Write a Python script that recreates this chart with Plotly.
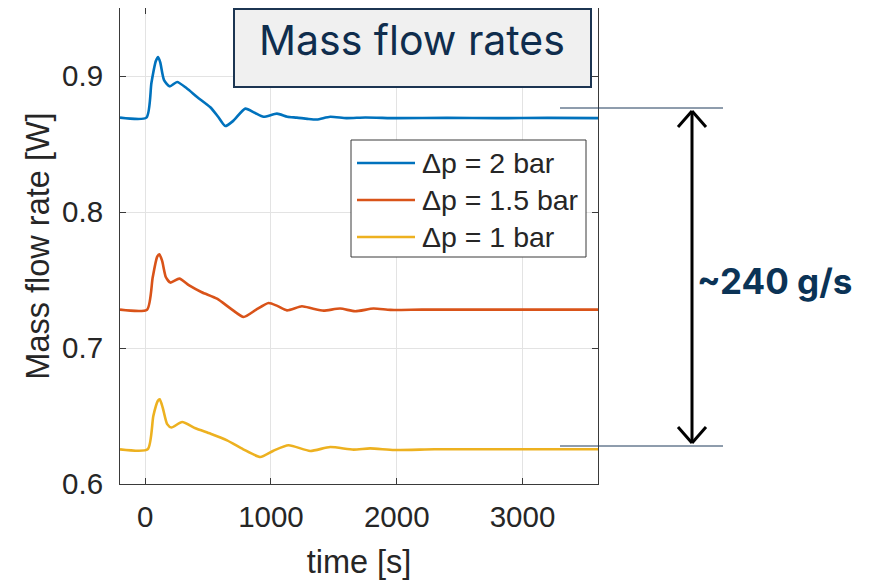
import plotly.graph_objects as go

# ---------------- data ----------------
series_names = ["Δp = 2 bar", "Δp = 1.5 bar", "Δp = 1 bar"]
series_colors = ["#0072BD", "#D95319", "#EDB120"]

t_2bar = [-200, 10, 50, 85, 103, 120, 150, 195, 254, 330, 413, 518, 580, 637, 700, 796, 870, 941, 1048, 1130,
          1206, 1290, 1365, 1471, 1600, 1750, 2000, 2400, 2800, 3200, 3600]
m_2bar = [0.8694, 0.8694, 0.895, 0.911, 0.914, 0.910, 0.897, 0.8924, 0.8956, 0.891, 0.8846, 0.877, 0.870, 0.8632,
          0.867, 0.876, 0.873, 0.870, 0.8723, 0.870, 0.8694, 0.8685, 0.868, 0.870, 0.869, 0.8695, 0.869, 0.8692,
          0.869, 0.8692, 0.869]

t_15bar = [-200, 15, 60, 95, 113, 135, 165, 201, 272, 350, 450, 571, 680, 783, 880, 981, 1050, 1127, 1246, 1330,
           1418, 1550, 1669, 1815, 1950, 2200, 2600, 3000, 3600]
m_15bar = [0.7282, 0.7282, 0.752, 0.767, 0.7689, 0.764, 0.752, 0.7481, 0.751, 0.746, 0.741, 0.7363, 0.729,
           0.7228, 0.728, 0.7331, 0.731, 0.7277, 0.7307, 0.729, 0.7275, 0.729, 0.727, 0.729, 0.728, 0.7282,
           0.7282, 0.7282, 0.7282]

t_1bar = [-200, 20, 65, 100, 116, 140, 175, 209, 294, 400, 520, 651, 780, 915, 1020, 1140, 1312, 1471, 1656,
          1788, 1980, 2300, 2700, 3100, 3600]
m_1bar = [0.6255, 0.6255, 0.650, 0.661, 0.6623, 0.656, 0.644, 0.6415, 0.6456, 0.641, 0.637, 0.6321, 0.6255,
          0.6199, 0.6245, 0.6285, 0.6243, 0.6272, 0.6253, 0.6262, 0.625, 0.6255, 0.6255, 0.6255, 0.6255]

x_ticks = [0, 1000, 2000, 3000]
y_ticks = [0.6, 0.7, 0.8, 0.9]
title_text = "Mass flow rates"
delta_text = "~240 g/s"

# ---------------- layout geometry (screen pixels; page body has an 8px margin) ----------------
OFF = 8
FIG_W, FIG_H = 876 - OFF, 580 - OFF
L, R, T, B = 120 - OFF, 598 - OFF, 0, 484 - OFF
PW, PH = R - L, B - T


def px(x):
    return (x - OFF - L) / PW


def py(y):
    return (B - (y - OFF)) / PH


fig = go.Figure()
for t, m, name, col in zip([t_2bar, t_15bar, t_1bar], [m_2bar, m_15bar, m_1bar], series_names, series_colors):
    fig.add_trace(go.Scatter(x=t, y=m, mode="lines", name=name,
                             line=dict(color=col, width=2.6, shape="spline", smoothing=0.6),
                             showlegend=False))

axis_color = "#3a3a3a"
tick_font = dict(family="Liberation Sans, Arial, sans-serif", size=29.5, color="#262626")
title_font = dict(family="Liberation Sans, Arial, sans-serif", size=32.5, color="#262626")

fig.update_xaxes(range=[-200, 3600], tickvals=x_ticks, ticks="inside", ticklen=6, tickcolor=axis_color,
                 showline=True, linecolor=axis_color, linewidth=1, mirror="ticks",
                 showgrid=True, gridcolor="#e3e3e3", gridwidth=1, zeroline=False,
                 tickfont=tick_font, ticklabelstandoff=7,
                 title=dict(text="time [s]", font=title_font, standoff=18))
fig.update_yaxes(range=[0.6, 0.95], tickvals=y_ticks, ticktext=["0.6", "0.7", "0.8", "0.9"],
                 ticks="inside", ticklen=6, tickcolor=axis_color,
                 showline=True, linecolor=axis_color, linewidth=1, mirror="ticks",
                 showgrid=True, gridcolor="#e3e3e3", gridwidth=1, zeroline=False,
                 tickfont=tick_font, ticklabelstandoff=10,
                 title=dict(text="Mass flow rate [W]", font=title_font, standoff=2))

shapes = []
annotations = []

# manual legend (MATLAB style)
lx0, lx1, ly0, ly1 = 351, 586, 140, 257
shapes.append(dict(type="rect", xref="paper", yref="paper", x0=px(lx0), x1=px(lx1), y0=py(ly1), y1=py(ly0),
                   line=dict(color="#3a3a3a", width=1), fillcolor="white", layer="above"))
row_y = [163, 200, 237]
for name, col, ry in zip(series_names, series_colors, row_y):
    shapes.append(dict(type="line", xref="paper", yref="paper", x0=px(357), x1=px(415), y0=py(ry), y1=py(ry),
                       line=dict(color=col, width=2.6), layer="above"))
    annotations.append(dict(xref="paper", yref="paper", x=px(420), y=py(ry), text=name, showarrow=False,
                            xanchor="left", yanchor="middle",
                            font=dict(family="Liberation Sans, Arial, sans-serif", size=28.5, color="#262626")))

# title box
shapes.append(dict(type="rect", xref="paper", yref="paper", x0=px(234), x1=px(591), y0=py(87), y1=py(9),
                   line=dict(color="#1c3552", width=2), fillcolor="#f0f0f0", layer="above"))
annotations.append(dict(xref="paper", yref="paper", x=px(412), y=py(40), text=title_text, showarrow=False,
                        xanchor="center", yanchor="middle",
                        font=dict(family="Inter, Lato, sans-serif", size=41, color="#0f2d4d")))

# reference lines and double arrow
for yy in [108, 446]:
    shapes.append(dict(type="line", xref="paper", yref="paper", x0=px(560), x1=px(723), y0=py(yy), y1=py(yy),
                       line=dict(color="#1f3b5a", width=1)))
ax = 692
shapes.append(dict(type="line", xref="paper", yref="paper", x0=px(ax), x1=px(ax), y0=py(111), y1=py(443),
                   line=dict(color="black", width=3)))
for tip, sgn in [(111, 1), (443, -1)]:
    for dx in (-14, 14):
        shapes.append(dict(type="line", xref="paper", yref="paper", x0=px(ax), y0=py(tip),
                           x1=px(ax + dx), y1=py(tip + sgn * 16), line=dict(color="black", width=3)))
annotations.append(dict(xref="paper", yref="paper", x=px(774), y=py(281), text="<b>" + delta_text + "</b>",
                        showarrow=False, xanchor="center", yanchor="middle",
                        font=dict(family="Inter, Lato, sans-serif", size=35, color="#0b3356")))

fig.update_layout(width=FIG_W, height=FIG_H, margin=dict(l=L, r=FIG_W - R, t=T, b=FIG_H - B),
                  paper_bgcolor="white", plot_bgcolor="white", shapes=shapes, annotations=annotations,
                  showlegend=False)

fig.write_html("out.html")
